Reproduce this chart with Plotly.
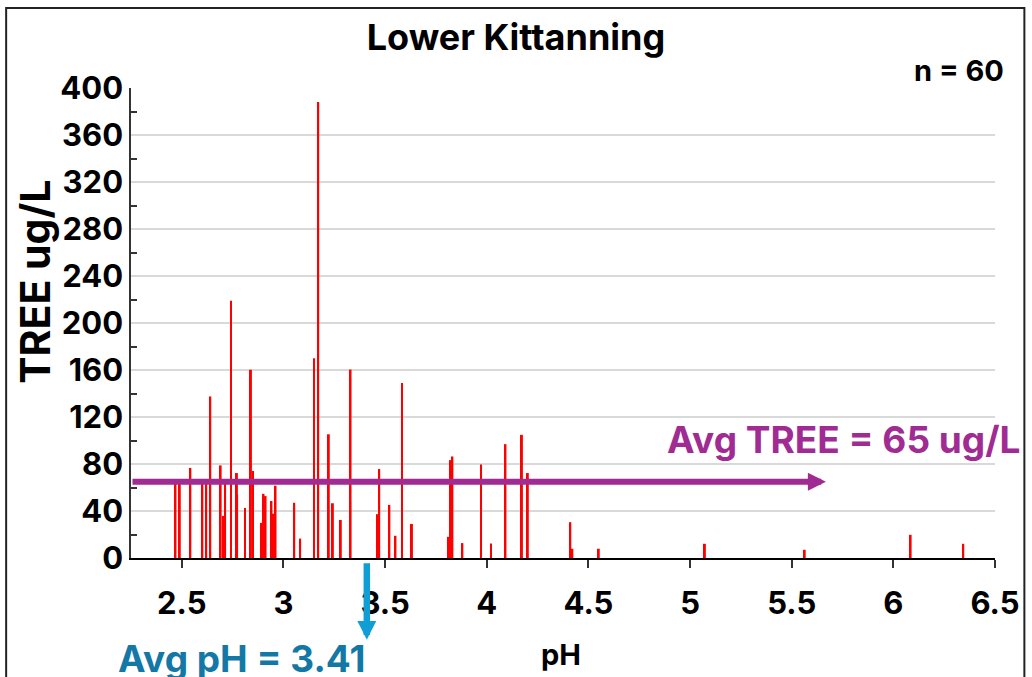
import plotly.graph_objects as go

# Sample pH and TREE (total rare earth elements, ug/L) for the Lower Kittanning samples
ph = [2.469, 2.490, 2.542, 2.601, 2.620, 2.640, 2.691, 2.703, 2.713, 2.742,
      2.771, 2.772, 2.811, 2.840, 2.850, 2.893, 2.902, 2.912, 2.941, 2.951,
      2.961, 3.053, 3.082, 3.150, 3.171, 3.223, 3.243, 3.282, 3.330, 3.328,
      3.463, 3.471, 3.521, 3.551, 3.583, 3.632, 3.812, 3.822, 3.831, 3.880,
      3.972, 4.021, 4.092, 4.173, 4.202, 4.411, 4.421, 4.551, 5.073, 5.564,
      6.085, 6.344]
tree = [64.8, 66.0, 76.7, 65.2, 63.8, 137.5, 78.8, 35.8, 63.8, 219.0,
        72.3, 54.0, 42.6, 160.2, 74.0, 29.9, 54.6, 52.7, 48.5, 37.7,
        61.5, 47.0, 16.5, 170.0, 388.0, 105.3, 46.6, 32.4, 160.4, 48.0,
        37.3, 75.7, 45.2, 18.9, 149.0, 29.0, 18.0, 83.3, 86.4, 12.7,
        79.6, 12.4, 96.9, 104.8, 72.3, 30.5, 7.9, 7.9, 12.1, 7.0,
        19.7, 12.1]

n_samples = 60
avg_ph = 3.41
avg_tree = 65

y_ticks = list(range(0, 401, 40))
x_ticks = [2.5, 3, 3.5, 4, 4.5, 5, 5.5, 6, 6.5]
x_tick_text = ["2.5", "3", "3.5", "4", "4.5", "5", "5.5", "6", "6.5"]

FONT = "Inter"
PURPLE = "#A02B93"
BLUE_ARROW = "#0F9ED5"
BLUE_TEXT = "#1478A6"


def bold(size, color="black"):
    return dict(family=FONT, size=size, color=color, weight="bold")


fig = go.Figure()
fig.add_trace(go.Bar(
    x=ph, y=tree, width=0.0095,
    marker=dict(color="#FF0000", line=dict(width=0)),
    hoverinfo="x+y",
))

fig.update_layout(
    width=1032, height=677,
    margin=dict(l=131, r=27, t=88, b=119),
    paper_bgcolor="white", plot_bgcolor="white",
    showlegend=False, barmode="overlay",
    font=dict(family=FONT, color="black"),
    title=dict(text="Lower Kittanning", x=0.5, xref="container",
               y=0.945, yanchor="middle", font=bold(36)),
    xaxis=dict(range=[2.25, 6.5], tickvals=x_ticks, ticktext=x_tick_text,
               showgrid=False, zeroline=False,
               showline=True, linecolor="black", linewidth=2,
               ticks="outside", ticklen=8, tickwidth=2, tickcolor="#333",
               ticklabelstandoff=9, tickfont=bold(31)),
    yaxis=dict(range=[0, 400], tickvals=y_ticks,
               showgrid=True, gridcolor="#d9d9d9", gridwidth=1.5,
               zeroline=False, showline=True, linecolor="#333", linewidth=1.5,
               ticks="", tickfont=bold(31),
               minor=dict(tickvals=list(range(20, 400, 40)), ticks="inside",
                          ticklen=6, tickwidth=1.5, tickcolor="#333", showgrid=False)),
)

# Outer chart frame
fig.add_shape(type="rect", xref="paper", yref="paper",
              x0=-0.1445, x1=1.034, y0=-0.27, y1=1.170,
              line=dict(color="#222", width=2), fillcolor="rgba(0,0,0,0)", layer="below")

# Axis titles
fig.add_annotation(text="TREE ug/L", xref="paper", yref="paper",
                   x=-0.1121, y=0.588, xanchor="center", yanchor="middle",
                   textangle=-90, showarrow=False, font=bold(41))
fig.add_annotation(text="pH", xref="paper", yref="paper",
                   x=0.4977, y=-0.2056, xanchor="center", yanchor="middle",
                   showarrow=False, font=bold(29))

# Sample count
fig.add_annotation(text=f"n = {n_samples}", xref="paper", yref="paper",
                   x=1.0126, y=1.038, xanchor="right", yanchor="middle", showarrow=False,
                   font=bold(29))

# Average TREE arrow and label
fig.add_annotation(x=5.668, y=avg_tree, xref="x", yref="y",
                   ax=2.25, ay=avg_tree, axref="x", ayref="y",
                   text="", showarrow=True, arrowhead=2, arrowsize=0.6,
                   arrowwidth=6, arrowcolor=PURPLE)
fig.add_annotation(text=f"Avg TREE = {avg_tree} ug/L", xref="paper", yref="paper",
                   x=1.032, y=0.2515, xanchor="right", yanchor="middle", showarrow=False,
                   font=bold(37, PURPLE))

# Average pH arrow and label
fig.add_annotation(x=avg_ph, y=-0.174, xref="x", yref="paper",
                   ax=0, ay=-78,
                   text="", showarrow=True, arrowhead=2, arrowsize=0.58,
                   arrowwidth=6.5, arrowcolor=BLUE_ARROW)
fig.add_annotation(text=f"Avg pH = {avg_ph}", xref="paper", yref="paper",
                   x=0.128, y=-0.161, xanchor="center", yanchor="top", showarrow=False,
                   font=bold(37, BLUE_TEXT))

fig.write_html("out.html")
